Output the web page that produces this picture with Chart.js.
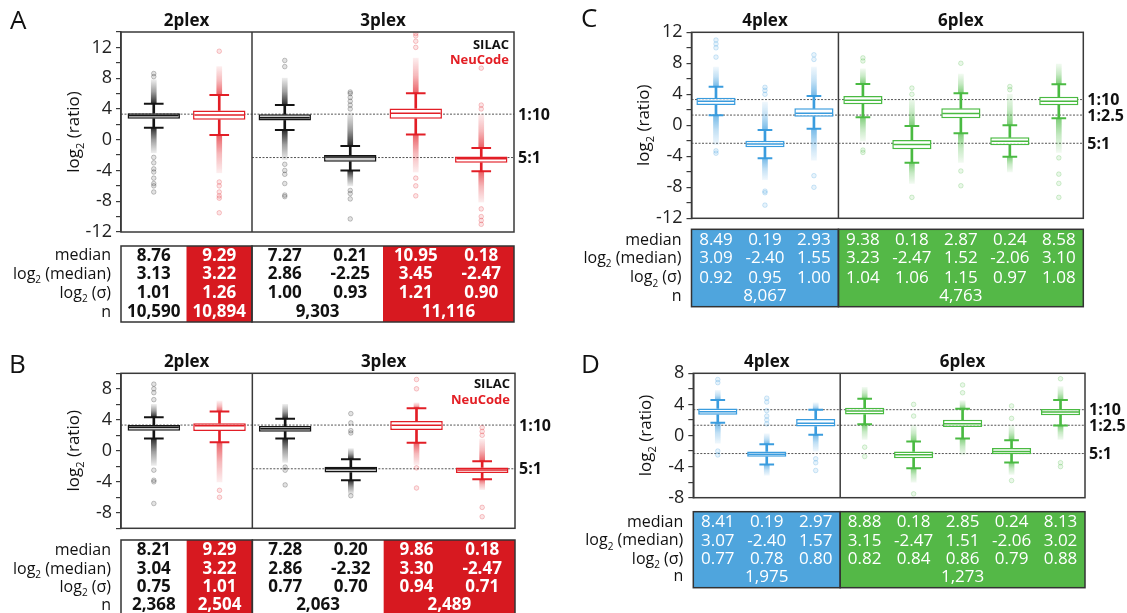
<!DOCTYPE html>
<html>
<head>
<meta charset="utf-8">
<script src="https://cdn.jsdelivr.net/npm/chart.js@4.4.1/dist/chart.umd.min.js"></script>
<style>
  html, body { margin: 0; padding: 0; background: #fff; }
  #wrap { position: relative; width: 1127px; height: 613px; overflow: hidden; }
  canvas { position: absolute; }
</style>
</head>
<body>
<div id="wrap">
  <canvas id="pA" width="565" height="330" style="left:0px;top:0px"></canvas>
  <canvas id="pB" width="565" height="283" style="left:0px;top:330px"></canvas>
  <canvas id="pC" width="562" height="330" style="left:565px;top:0px"></canvas>
  <canvas id="pD" width="562" height="283" style="left:565px;top:330px"></canvas>
</div>
<script>
// ---------- panel A (2plex / 3plex, SILAC vs NeuCode)
const catsA = ["2plex SILAC", "2plex NeuCode", "3plex SILAC 1:10", "3plex SILAC 5:1", "3plex NeuCode 1:10", "3plex NeuCode 5:1"];
const colorsA = ["k", "r", "k", "k", "r", "r"];
const q1A = [2.72, 2.60, 2.50, -2.86, 2.72, -3.00];
const q3A = [3.45, 3.80, 3.30, -2.00, 4.07, -2.20];
const whiskLoA = [1.56, 0.60, 1.25, -3.99, 0.69, -4.10];
const whiskHiA = [4.67, 5.80, 4.50, -0.83, 6.05, -1.09];
const denseLoA = [-1.7, -4.3, -2.6, -6.0, -4.2, -8.1];
const denseHiA = [7.8, 9.5, 8.0, 3.5, 10.6, 3.3];
const outA = [
  [8.2, 8.6, -2.3, -3.0, -3.8, -4.2, -5.0, -5.7, -6.0, -6.8],
  [11.5, -5.5, -6.0, -6.8, -7.3, -7.6, -9.5],
  [9.5, 10.3, -3.2, -4.0, -4.5, -5.7, -7.2, -7.4],
  [4.0, 4.5, 5.0, 5.5, 6.0, 6.2, -6.6, -7.0, -7.7, -10.3],
  [12.0, 12.8, 13.5, 13.8, -5.0, -6.0, -7.3],
  [4.0, 4.5, 9.3, -9.0, -10.0, -10.5, -11.0]
];
const medianA = [8.76, 9.29, 7.27, 0.21, 10.95, 0.18];
const log2MedA = [3.13, 3.22, 2.86, -2.25, 3.45, -2.47];
const log2SigmaA = [1.01, 1.26, 1.00, 0.93, 1.21, 0.90];
const nA = ["10,590", "10,894", "9,303", "11,116"];
const nSpanA = [1, 1, 2, 2];
const ticksA = [-12, -8, -4, 0, 4, 8, 12];

// ---------- panel B
const catsB = catsA;
const colorsB = colorsA;
const q1B = [2.60, 2.56, 2.47, -2.80, 2.69, -2.85];
const q3B = [3.34, 3.55, 3.20, -2.07, 3.86, -2.16];
const whiskLoB = [1.60, 1.09, 1.60, -3.80, 1.04, -3.67];
const whiskHiB = [4.34, 5.07, 4.12, -1.08, 5.50, -1.34];
const denseLoB = [-1.9, -4.0, -1.5, -5.6, -1.8, -5.0];
const denseHiB = [6.0, 6.4, 6.0, 0.3, 6.2, 1.5];
const outB = [
  [6.6, 7.5, 8.0, 8.6, -2.5, -3.8, -4.0, -6.8],
  [-5.1, -6.0],
  [-2.1, -2.5, -4.4],
  [2.3, 2.6, 3.6, 4.8, -5.8],
  [8.0, 9.2, -2.2, -4.8],
  [2.0, 2.5, 3.0, -7.3, -8.5]
];
const medianB = [8.21, 9.29, 7.28, 0.20, 9.86, 0.18];
const log2MedB = [3.04, 3.22, 2.86, -2.32, 3.30, -2.47];
const log2SigmaB = [0.75, 1.01, 0.77, 0.70, 0.94, 0.71];
const nB = ["2,368", "2,504", "2,063", "2,489"];
const nSpanB = [1, 1, 2, 2];
const ticksB = [-8, -4, 0, 4, 8];

// ---------- panel C (4plex / 6plex)
const catsC = ["4plex 1:10", "4plex 5:1", "4plex 1:2.5", "6plex 1:10", "6plex 5:1", "6plex 1:2.5", "6plex 5:1 b", "6plex 1:10 b"];
const colorsC = ["b", "b", "b", "g", "g", "g", "g", "g"];
const q1C = [2.62, -2.84, 1.11, 2.71, -3.10, 0.90, -2.58, 2.58];
const q3C = [3.56, -1.99, 2.19, 3.78, -1.90, 2.19, -1.55, 3.69];
const whiskLoC = [1.29, -4.26, -0.44, 1.03, -4.83, -1.03, -4.05, 0.90];
const whiskHiC = [4.98, -0.60, 3.78, 5.33, -0.09, 4.13, 0.00, 5.29];
const denseLoC = [-2.5, -7.0, -4.5, -2.0, -7.5, -4.8, -6.0, -3.5];
const denseHiC = [7.5, 3.0, 7.5, 7.3, 3.5, 6.6, 4.0, 7.9];
const outC = [
  [8.8, 10.0, 10.5, 11.0, -3.3, -3.6],
  [4.0, 4.5, 4.9, -8.5, -8.7, -10.3],
  [8.5, 9.1, -6.5, -8.0],
  [8.3, 8.7, -3.2, -3.5],
  [4.0, 4.8, -9.3],
  [8.0, -5.9, -7.8],
  [4.6, 5.0],
  [-4.2, -6.3, -7.5, -9.3]
];
const medianC = [8.49, 0.19, 2.93, 9.38, 0.18, 2.87, 0.24, 8.58];
const log2MedC = [3.09, -2.40, 1.55, 3.23, -2.47, 1.52, -2.06, 3.10];
const log2SigmaC = [0.92, 0.95, 1.00, 1.04, 1.06, 1.15, 0.97, 1.08];
const nC = ["8,067", "4,763"];
const nSpanC = [3, 5];
const ticksC = [-12, -8, -4, 0, 4, 8, 12];

// ---------- panel D
const catsD = catsC;
const colorsD = colorsC;
const q1D = [2.66, -2.74, 1.16, 2.70, -2.91, 1.08, -2.40, 2.62];
const q3D = [3.47, -2.06, 2.11, 3.57, -2.06, 2.02, -1.62, 3.40];
const whiskLoD = [1.63, -3.73, 0.09, 1.46, -4.20, -0.38, -3.47, 1.29];
const whiskHiD = [4.55, -1.11, 3.31, 4.72, -0.77, 3.44, -0.60, 4.55];
const denseLoD = [-1.0, -5.1, -2.0, -0.5, -6.0, -2.5, -5.0, -0.5];
const denseHiD = [5.8, 0.2, 4.2, 6.2, 1.3, 4.5, 1.3, 6.3];
const outD = [
  [6.8, 7.2, -2.0, -2.5],
  [1.5, 2.0, 2.5, 3.2, 4.3, 4.8],
  [-3.0, -3.5, -4.5],
  [-1.5, -2.7],
  [2.5, 4.0, -7.5],
  [5.5, 6.5],
  [2.2, 3.8, -5.8],
  [7.3, -3.5, -4.0]
];
const medianD = [8.41, 0.19, 2.97, 8.88, 0.18, 2.85, 0.24, 8.13];
const log2MedD = [3.07, -2.40, 1.57, 3.15, -2.47, 1.51, -2.06, 3.02];
const log2SigmaD = [0.77, 0.78, 0.80, 0.82, 0.84, 0.86, 0.79, 0.88];
const nD = ["1,975", "1,273"];
const nSpanD = [3, 5];
const ticksD = [-8, -4, 0, 4, 8];

// reference ratios (log2)
const refValues = [3.32, 1.32, -2.32];
const refLabels = ["1:10", "1:2.5", "5:1"];

const FONT = "'Open Sans', 'Noto Sans', sans-serif";
const PAL = { k: [20, 20, 20], r: [226, 30, 38], b: [58, 156, 222], g: [74, 186, 66] };
const CELL = { k: "#ffffff", r: "#d71920", b: "#4fa5dd", g: "#54b847" };

function rgba(c, a) {
  const p = PAL[c];
  return "rgba(" + p[0] + "," + p[1] + "," + p[2] + "," + a + ")";
}

// dense outlier column: strong next to the whisker cap, fading outwards
function bandFill(ctx, c, nearIdx) {
  const chart = ctx.chart;
  if (!chart.chartArea || !ctx.raw) return rgba(c, 0.4);
  const y = chart.scales.y;
  const pNear = y.getPixelForValue(ctx.raw[nearIdx]);
  const pFar = y.getPixelForValue(ctx.raw[1 - nearIdx]);
  if (Math.abs(pNear - pFar) < 1) return rgba(c, 0.4);
  const g = chart.ctx.createLinearGradient(0, pNear, 0, pFar);
  const s = c === "k" ? 0.9 : 0.7;
  g.addColorStop(0, rgba(c, s));
  g.addColorStop(0.5, rgba(c, s * 0.45));
  g.addColorStop(1, rgba(c, 0.08));
  return g;
}

// "log" + subscript 2 + rest
function drawLog(ctx, x, y, rest, size, align) {
  ctx.font = size + "px " + FONT;
  const w1 = ctx.measureText("log").width;
  const w3 = ctx.measureText(rest).width;
  ctx.font = Math.round(size * 0.62) + "px " + FONT;
  const w2 = ctx.measureText("2").width;
  const total = w1 + w2 + w3;
  let sx = x;
  if (align === "right") sx = x - total;
  if (align === "center") sx = x - total / 2;
  ctx.textAlign = "left";
  ctx.textBaseline = "middle";
  ctx.font = size + "px " + FONT;
  ctx.fillText("log", sx, y);
  ctx.fillText(rest, sx + w1 + w2, y);
  ctx.font = Math.round(size * 0.62) + "px " + FONT;
  ctx.fillText("2", sx + w1, y + size * 0.38);
}

function decor(P) {
  return {
    id: "decor",
    beforeDatasetsDraw(chart) {
      const { ctx, chartArea: a } = chart;
      const y = chart.scales.y;
      const cw = a.width / P.cats.length;
      ctx.save();
      ctx.strokeStyle = "#555";
      ctx.lineWidth = 1;
      ctx.setLineDash([2, 1.5]);
      P.refs.forEach((r, i) => {
        const py = y.getPixelForValue(refValues[r]);
        ctx.beginPath();
        ctx.moveTo(a.left + P.refFrom[i] * cw, py);
        ctx.lineTo(a.right, py);
        ctx.stroke();
      });
      ctx.restore();
    },
    afterDraw(chart) {
      const { ctx, chartArea: a } = chart;
      const x = chart.scales.x, y = chart.scales.y;
      const cw = a.width / P.cats.length;
      ctx.save();

      // frame + group divider
      ctx.strokeStyle = "#3a3a3a";
      ctx.lineWidth = 1.5;
      ctx.strokeRect(a.left, a.top, a.width, a.height);
      let acc = 0;
      P.groups.forEach((g, gi) => {
        const x0 = a.left + acc * cw, x1 = a.left + (acc + g.n) * cw;
        if (gi > 0) {
          ctx.beginPath(); ctx.moveTo(x0, a.top); ctx.lineTo(x0, a.bottom); ctx.stroke();
        }
        ctx.fillStyle = "#111";
        ctx.font = "bold 17px " + FONT;
        ctx.textAlign = "center";
        ctx.textBaseline = "middle";
        ctx.fillText(g.label, (x0 + x1) / 2, a.top - 11);
        acc += g.n;
      });

      // ratio labels
      ctx.font = "bold 16px " + FONT;
      ctx.textAlign = "left";
      ctx.fillStyle = "#111";
      P.refs.forEach(r => {
        ctx.fillText(refLabels[r], a.right + 4, y.getPixelForValue(refValues[r]) + 1);
      });

      // panel letter
      ctx.font = "26px " + FONT;
      ctx.fillText(P.letter, P.letterX, P.letterY);

      // y title
      ctx.save();
      ctx.translate(a.left - 47, (a.top + a.bottom) / 2);
      ctx.rotate(-Math.PI / 2);
      ctx.fillStyle = "#111";
      drawLog(ctx, 0, 0, " (ratio)", 17, "center");
      ctx.restore();

      // legend
      if (P.legend) {
        ctx.font = "bold 13px " + FONT;
        ctx.textAlign = "right";
        ctx.textBaseline = "middle";
        ctx.fillStyle = "#111";
        ctx.fillText("SILAC", a.right - 5, P.legend[0]);
        ctx.fillStyle = "#e31e24";
        ctx.fillText("NeuCode", a.right - 5, P.legend[1]);
      }

      // stats table: one fill per run of same-coloured columns
      const T = P.table;
      const top = a.bottom + T.top, bot = a.bottom + T.bottom;
      let i0 = 0;
      for (let i = 1; i <= P.colors.length; i++) {
        if (i === P.colors.length || P.colors[i] !== P.colors[i0]) {
          ctx.fillStyle = CELL[P.colors[i0]];
          ctx.fillRect(a.left + i0 * cw, top, (i - i0) * cw, bot - top);
          i0 = i;
        }
      }
      ctx.strokeStyle = "#333";
      ctx.lineWidth = 1.5;
      acc = 0;
      P.groups.forEach(g => {
        ctx.strokeRect(a.left + acc * cw, top, g.n * cw, bot - top);
        acc += g.n;
      });
      const lx = a.left - 10;
      ctx.fillStyle = "#111";
      ctx.font = "16px " + FONT;
      ctx.textAlign = "right";
      ctx.textBaseline = "middle";
      ctx.fillText("median", lx, a.bottom + T.rows[0]);
      drawLog(ctx, lx, a.bottom + T.rows[1], " (median)", 16, "right");
      drawLog(ctx, lx, a.bottom + T.rows[2], " (\u03c3)", 16, "right");
      ctx.font = "16px " + FONT;
      ctx.textAlign = "right";
      ctx.fillText("n", lx, a.bottom + T.rows[3]);

      ctx.font = (T.bold ? "bold 17px " : "17px ") + FONT;
      ctx.textAlign = "center";
      const rowsData = [P.median, P.log2Med, P.log2Sig];
      rowsData.forEach((arr, r) => {
        arr.forEach((v, i) => {
          ctx.fillStyle = P.colors[i] === "k" ? "#111" : "#fff";
          ctx.fillText(v.toFixed(2), x.getPixelForValue(i), a.bottom + T.rows[r]);
        });
      });
      let s = 0;
      P.n.forEach((txt, j) => {
        const k = P.nSpan[j];
        const cx = (x.getPixelForValue(s) + x.getPixelForValue(s + k - 1)) / 2;
        ctx.fillStyle = P.colors[s] === "k" ? "#111" : "#fff";
        ctx.fillText(txt, cx, a.bottom + T.rows[3]);
        s += k;
      });
      ctx.restore();
    }
  };
}

function build(id, P) {
  const labels = P.cats;
  const col = P.colors;
  const pts = [];
  P.out.forEach((arr, i) => arr.forEach(v => pts.push({ x: labels[i], y: v, c: col[i] })));
  const caps = [];
  labels.forEach((l, i) => {
    caps.push({ x: l, y: P.whiskLo[i], c: col[i] });
    caps.push({ x: l, y: P.whiskHi[i], c: col[i] });
  });
  const catW = chart => chart.chartArea ? chart.chartArea.width / labels.length : 60;

  new Chart(document.getElementById(id), {
    type: "bar",
    data: {
      labels: labels,
      datasets: [
        { type: "bar", data: labels.map((_, i) => [P.denseLo[i], P.whiskLo[i]]),
          backgroundColor: ctx => bandFill(ctx, col[ctx.dataIndex], 1), barThickness: 5, grouped: false, order: 7 },
        { type: "bar", data: labels.map((_, i) => [P.whiskHi[i], P.denseHi[i]]),
          backgroundColor: ctx => bandFill(ctx, col[ctx.dataIndex], 0), barThickness: 5, grouped: false, order: 7 },
        { type: "line", data: pts, showLine: false, pointRadius: 2.3,
          pointBackgroundColor: pts.map(p => rgba(p.c, 0.12)),
          pointBorderColor: pts.map(p => rgba(p.c, 0.3)), pointBorderWidth: 0.8, order: 6 },
        { type: "bar", data: labels.map((_, i) => [P.whiskLo[i], P.q1[i]]),
          backgroundColor: col.map(c => rgba(c, 1)), barThickness: 2, grouped: false, order: 5 },
        { type: "bar", data: labels.map((_, i) => [P.q3[i], P.whiskHi[i]]),
          backgroundColor: col.map(c => rgba(c, 1)), barThickness: 2, grouped: false, order: 5 },
        { type: "bar", data: labels.map((_, i) => [P.q1[i], P.q3[i]]),
          backgroundColor: col.map(c => (c === "k" ? "#cfcfcf" : "#ffffff")),
          borderColor: col.map(c => rgba(c, 1)), borderWidth: 1.5, borderSkipped: false,
          barPercentage: 0.8, categoryPercentage: 1, grouped: false, order: 4 },
        { type: "line", data: labels.map((l, i) => ({ x: l, y: P.log2Med[i] })), showLine: false,
          pointStyle: "line", pointRadius: ctx => catW(ctx.chart) * 0.38,
          pointBorderColor: col.map(c => rgba(c, 1)), pointBorderWidth: 1.5, order: 3 },
        { type: "line", data: caps, showLine: false,
          pointStyle: "line", pointRadius: ctx => catW(ctx.chart) * 0.15,
          pointBorderColor: caps.map(p => rgba(p.c, 1)), pointBorderWidth: 2, order: 2 }
      ]
    },
    options: {
      responsive: false,
      animation: false,
      devicePixelRatio: 1,
      events: [],
      layout: { padding: { left: 0, top: P.pad[0], right: P.pad[1], bottom: P.pad[2] } },
      plugins: { legend: { display: false }, tooltip: { enabled: false } },
      scales: {
        x: { type: "category", display: false, offset: true },
        y: {
          min: P.yMin, max: P.yMax,
          afterFit: s => { s.width = P.axisW; },
          ticks: {
            stepSize: 2, autoSkip: false, color: "#222", padding: 4,
            font: { family: FONT, size: 18 },
            callback: v => (P.ticks.includes(v) ? String(v) : "")
          },
          grid: { drawOnChartArea: false, drawTicks: true, tickLength: 5, color: "#3a3a3a", lineWidth: 1.2 },
          border: { display: true, color: "#3a3a3a", width: 1.5 }
        }
      }
    },
    plugins: [decor(P)]
  });
}

build("pA", {
  letter: "A", letterX: 10, letterY: 22,
  cats: catsA, colors: colorsA, q1: q1A, q3: q3A, whiskLo: whiskLoA, whiskHi: whiskHiA,
  denseLo: denseLoA, denseHi: denseHiA, out: outA,
  median: medianA, log2Med: log2MedA, log2Sig: log2SigmaA, n: nA, nSpan: nSpanA,
  ticks: ticksA, yMin: -12, yMax: 14,
  groups: [{ label: "2plex", n: 2 }, { label: "3plex", n: 4 }],
  refs: [0, 2], refFrom: [0, 2], legend: [45, 60],
  axisW: 121, pad: [32, 51, 98],
  table: { top: 14, bottom: 90, rows: [23.7, 42.3, 61.3, 80.3], bold: true }
});
build("pB", {
  letter: "B", letterX: 9, letterY: 36,
  cats: catsB, colors: colorsB, q1: q1B, q3: q3B, whiskLo: whiskLoB, whiskHi: whiskHiB,
  denseLo: denseLoB, denseHi: denseHiB, out: outB,
  median: medianB, log2Med: log2MedB, log2Sig: log2SigmaB, n: nB, nSpan: nSpanB,
  ticks: ticksB, yMin: -10, yMax: 10,
  groups: [{ label: "2plex", n: 2 }, { label: "3plex", n: 4 }],
  refs: [0, 2], refFrom: [0, 2], legend: [54, 70],
  axisW: 121, pad: [43.3, 50, 84.7],
  table: { top: 11.7, bottom: 90, rows: [21.7, 40.7, 59, 76.7], bold: true }
});
build("pC", {
  letter: "C", letterX: 16, letterY: 20,
  cats: catsC, colors: colorsC, q1: q1C, q3: q3C, whiskLo: whiskLoC, whiskHi: whiskHiC,
  denseLo: denseLoC, denseHi: denseHiC, out: outC,
  median: medianC, log2Med: log2MedC, log2Sig: log2SigmaC, n: nC, nSpan: nSpanC,
  ticks: ticksC, yMin: -12, yMax: 12,
  groups: [{ label: "4plex", n: 3 }, { label: "6plex", n: 5 }],
  refs: [0, 1, 2], refFrom: [0, 0, 0], legend: null,
  axisW: 126.5, pad: [32.3, 43.7, 111.7],
  table: { top: 11, bottom: 88.4, rows: [21.7, 40, 59.4, 77.7], bold: false }
});
build("pD", {
  letter: "D", letterX: 16, letterY: 36,
  cats: catsD, colors: colorsD, q1: q1D, q3: q3D, whiskLo: whiskLoD, whiskHi: whiskHiD,
  denseLo: denseLoD, denseHi: denseHiD, out: outD,
  median: medianD, log2Med: log2MedD, log2Sig: log2SigmaD, n: nD, nSpan: nSpanD,
  ticks: ticksD, yMin: -8, yMax: 8,
  groups: [{ label: "4plex", n: 3 }, { label: "6plex", n: 5 }],
  refs: [0, 1, 2], refFrom: [0, 0, 0], legend: null,
  axisW: 128.3, pad: [43.3, 42, 115.3],
  table: { top: 14, bottom: 90, rows: [24.6, 43, 61.3, 79], bold: false }
});
</script>
</body>
</html>
